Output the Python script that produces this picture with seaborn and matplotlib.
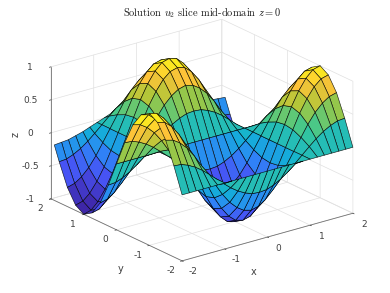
import numpy as np
import matplotlib
matplotlib.use("Agg")
import matplotlib.pyplot as plt
from matplotlib.transforms import Affine2D
import seaborn as sns

# grid nodes
x_nodes = [-2, -1.83, -1.67, -1.5, -1.33, -1.17, -1, -.83, -.67, -.5, -.33, -.17, 0,
           .17, .33, .5, .67, .83, 1, 1.17, 1.33, 1.5, 1.67, 1.83, 2]
y_nodes = [-2, -1.75, -1.5, -1.25, -1, -.75, -.5, -.25, 0, .25, .5, .75, 1, 1.25, 1.5, 1.75, 1.9]

# u2 heights, one list per y node
u_y00 = [0] * 25
u_y01 = [.38, .37, .33, .27, .19, .10, 0, -.10, -.19, -.27, -.33, -.37, -.38, -.37, -.33, -.27, -.19, -.10, 0, .10, .19, .27, .33, .37, .38]
u_y02 = [.71, .68, .61, .50, .35, .18, 0, -.18, -.35, -.50, -.61, -.68, -.71, -.68, -.61, -.50, -.35, -.18, 0, .18, .35, .50, .61, .68, .71]
u_y03 = [.92, .89, .80, .65, .46, .24, 0, -.24, -.46, -.65, -.80, -.89, -.92, -.89, -.80, -.65, -.46, -.24, 0, .24, .46, .65, .80, .89, .92]
u_y04 = [1, .97, .87, .71, .50, .26, 0, -.26, -.50, -.71, -.87, -.97, -1, -.97, -.87, -.71, -.50, -.26, 0, .26, .50, .71, .87, .97, 1]
u_y05 = [.92, .89, .80, .65, .46, .24, 0, -.24, -.46, -.65, -.80, -.89, -.92, -.89, -.80, -.65, -.46, -.24, 0, .24, .46, .65, .80, .89, .92]
u_y06 = [.71, .68, .61, .50, .35, .18, 0, -.18, -.35, -.50, -.61, -.68, -.71, -.68, -.61, -.50, -.35, -.18, 0, .18, .35, .50, .61, .68, .71]
u_y07 = [.38, .37, .33, .27, .19, .10, 0, -.10, -.19, -.27, -.33, -.37, -.38, -.37, -.33, -.27, -.19, -.10, 0, .10, .19, .27, .33, .37, .38]
u_y08 = [0] * 25
u_y09 = [-.38, -.37, -.33, -.27, -.19, -.10, 0, .10, .19, .27, .33, .37, .38, .37, .33, .27, .19, .10, 0, -.10, -.19, -.27, -.33, -.37, -.38]
u_y10 = [-.71, -.68, -.61, -.50, -.35, -.18, 0, .18, .35, .50, .61, .68, .71, .68, .61, .50, .35, .18, 0, -.18, -.35, -.50, -.61, -.68, -.71]
u_y11 = [-.92, -.89, -.80, -.65, -.46, -.24, 0, .24, .46, .65, .80, .89, .92, .89, .80, .65, .46, .24, 0, -.24, -.46, -.65, -.80, -.89, -.92]
u_y12 = [-1, -.97, -.87, -.71, -.50, -.26, 0, .26, .50, .71, .87, .97, 1, .97, .87, .71, .50, .26, 0, -.26, -.50, -.71, -.87, -.97, -1]
u_y13 = [-.92, -.89, -.80, -.65, -.46, -.24, 0, .24, .46, .65, .80, .89, .92, .89, .80, .65, .46, .24, 0, -.24, -.46, -.65, -.80, -.89, -.92]
u_y14 = [-.71, -.68, -.61, -.50, -.35, -.18, 0, .18, .35, .50, .61, .68, .71, .68, .61, .50, .35, .18, 0, -.18, -.35, -.50, -.61, -.68, -.71]
u_y15 = [-.38, -.37, -.33, -.27, -.19, -.10, 0, .10, .19, .27, .33, .37, .38, .37, .33, .27, .19, .10, 0, -.10, -.19, -.27, -.33, -.37, -.38]
u_y16 = [-.16, -.15, -.14, -.11, -.08, -.04, 0, .04, .08, .11, .14, .15, .16, .15, .14, .11, .08, .04, 0, -.04, -.08, -.11, -.14, -.15, -.16]

x_ticks = [-2, -1, 0, 1, 2]
y_ticks = [-2, -1, 0, 1, 2]
z_ticks = [-1, -.5, 0, .5, 1]
z_tick_labels = ["-1", "-0.5", "0", "0.5", "1"]
title_text = r"Solution $u_2$ slice mid-domain $z=0$"

parula_stops = [(0.2422, 0.1504, 0.6603), (0.2810, 0.3228, 0.9579), (0.1786, 0.5289, 0.9682),
                (0.0689, 0.6948, 0.8394), (0.2161, 0.7843, 0.5923), (0.6720, 0.7793, 0.2227),
                (0.9970, 0.7659, 0.2199), (0.9769, 0.9839, 0.0805)]

sns.set_theme(style="white")
plt.rcParams["font.family"] = ["DejaVu Sans"]
plt.rcParams["axes.unicode_minus"] = False
plt.rcParams["mathtext.fontset"] = "cm"
parula = sns.blend_palette(parula_stops, as_cmap=True)

U = np.array([u_y00, u_y01, u_y02, u_y03, u_y04, u_y05, u_y06, u_y07, u_y08,
              u_y09, u_y10, u_y11, u_y12, u_y13, u_y14, u_y15, u_y16], dtype=float)
X, Y = np.meshgrid(x_nodes, y_nodes)

fig = plt.figure(figsize=(3.9, 2.93), dpi=100)
W = 271.0
ax = fig.add_axes([62.8 / 390, 13.8 / 293, W / 390, W / 293], projection="3d")
ax.set_proj_type("ortho")
ax.view_init(elev=21.3, azim=-127.5)
ax.set_box_aspect((1, 1, 0.658), zoom=1.203)
ax.set_xlim(-2, 2, view_margin=0)
ax.set_ylim(-2, 2, view_margin=0)
ax.set_zlim(-1, 1, view_margin=0)

colors = parula((U + 1) / 2)
surf = ax.plot_surface(X, Y, U, rstride=1, cstride=1, facecolors=colors, shade=False,
                       edgecolor=(0, 0, 0, 0.85), linewidth=0.45, antialiased=True)
surf.set_clip_on(False)

ax.set_xticks(x_ticks)
ax.set_yticks(y_ticks)
ax.set_zticks(z_ticks)
ax.set_zticklabels(z_tick_labels)
ax.tick_params(axis="both", labelsize=6.5, colors=(0.25, 0.25, 0.25), pad=-2)
ax.tick_params(axis="z", pad=-1)
for axis in (ax.xaxis, ax.yaxis, ax.zaxis):
    axis.set_pane_color((1, 1, 1, 0))
    axis.pane.set_edgecolor((0.88, 0.88, 0.88))
    axis.pane.set_linewidth(0.5)
    axis.line.set_color((0.45, 0.45, 0.45))
    axis.line.set_linewidth(0.6)
    axis._axinfo["grid"].update(color=(0.88, 0.88, 0.88), linewidth=0.5)
    axis._axinfo["tick"].update(inward_factor=0.12, outward_factor=0.0, linewidth={True: 0.5, False: 0.4})
ax.zaxis.set_rotate_label(False)
ax.set_xlabel("x", fontsize=7, color=(0.25, 0.25, 0.25), labelpad=-8)
ax.set_ylabel("y", fontsize=7, color=(0.25, 0.25, 0.25), labelpad=-8)
ax.set_zlabel("z", fontsize=7, color=(0.25, 0.25, 0.25), labelpad=-8, rotation=90)


def nudge(artist, dx, dy):
    shift = Affine2D().translate(dx, dy)
    artist.get_transform = lambda: ax.transData + shift


for axis, dx, dy in ((ax.xaxis, 3.5, 5), (ax.yaxis, -1, 5), (ax.zaxis, 0, 3)):
    for tick in axis.get_major_ticks():
        nudge(tick.label1, dx, dy)
nudge(ax.xaxis.label, -31, -10)
nudge(ax.yaxis.label, 26, -16)
nudge(ax.zaxis.label, 3, -4)

fig.text(202 / 390, 1 - 13 / 293, title_text, ha="center", va="center",
         fontsize=7.5, family="cmr10", color=(0.1, 0.1, 0.1))

fig.savefig("out.png", dpi=100)
